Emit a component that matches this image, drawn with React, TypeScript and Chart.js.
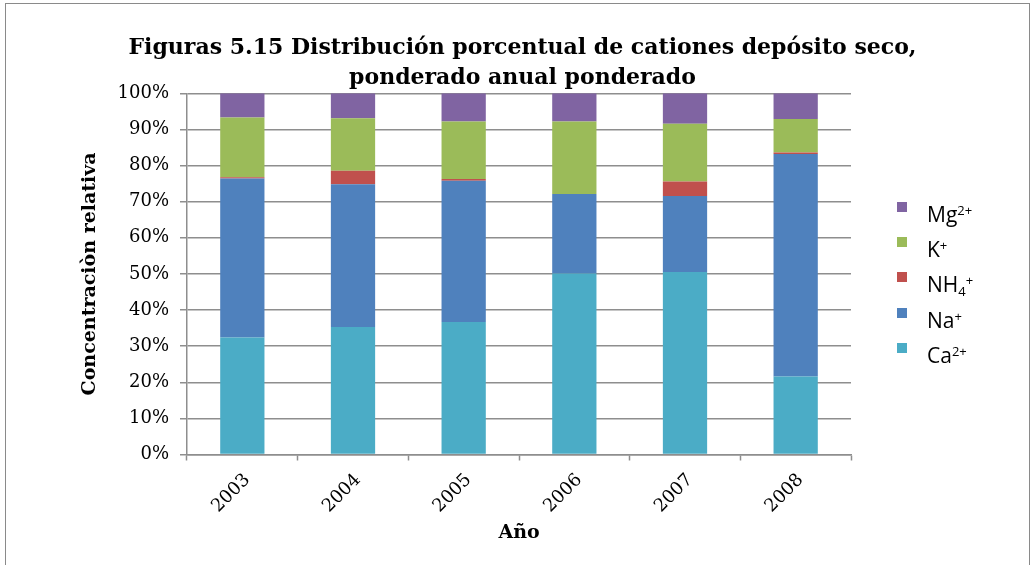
import React, { useEffect, useRef } from 'react';
import { Chart, registerables } from 'chart.js';

Chart.register(...registerables);

const years = ['2003', '2004', '2005', '2006', '2007', '2008'];
const caValues = [32.4, 35.3, 36.7, 50.1, 50.5, 21.6];
const naValues = [44.0, 39.5, 39.1, 22.0, 21.1, 61.6];
const nh4Values = [0.4, 3.8, 0.5, 0.0, 4.0, 0.4];
const kValues = [16.5, 14.5, 15.9, 20.1, 16.0, 9.3];
const mgValues = [6.7, 6.9, 7.8, 7.8, 8.4, 7.1];

const seriesNames = ['Ca²⁺', 'Na⁺', 'NH₄⁺', 'K⁺', 'Mg²⁺'];
const seriesColors = ['#4BACC6', '#4F81BD', '#C0504D', '#9BBB59', '#8064A2'];
// legend pieces (base, subscript, superscript), top to bottom
const legendBase = ['Mg', 'K', 'NH', 'Na', 'Ca'];
const legendSub = ['', '', '4', '', ''];
const legendSup = ['2+', '+', '+', '+', '2+'];
const legendColors = ['#8064A2', '#9BBB59', '#C0504D', '#4F81BD', '#4BACC6'];

const titleLines = [
  'Figuras 5.15 Distribución porcentual de cationes depósito seco,',
  'ponderado anual ponderado',
];
const yTitle = 'Concentraciòn relativa';
const xTitle = 'Año';

const SERIF = "'DejaVu Serif', serif";
const GRID = '#8e8e8e';

export default function App() {
  const ref = useRef<HTMLCanvasElement | null>(null);

  useEffect(() => {
    if (!ref.current) return;
    const values = [caValues, naValues, nh4Values, kValues, mgValues];
    const chart = new Chart(ref.current, {
      type: 'bar',
      data: {
        labels: years,
        datasets: values.map((v, i) => ({
          label: seriesNames[i],
          data: v,
          backgroundColor: seriesColors[i],
          borderWidth: 0,
          barPercentage: 0.4,
          categoryPercentage: 1,
          yAxisID: 'y',
        })),
      },
      options: {
        animation: false,
        responsive: false,
        layout: { padding: { left: 12, right: 0, top: 0, bottom: 0 } },
        plugins: {
          legend: { display: false },
          tooltip: { enabled: false },
          title: {
            display: true,
            text: titleLines,
            fullSize: true,
            color: '#000',
            font: { family: SERIF, size: 22, weight: 'bold', lineHeight: 1.36 },
            padding: { top: 33, bottom: 0.5 },
          },
        },
        scales: {
          x: {
            stacked: true,
            grid: {
              display: true,
              drawOnChartArea: false,
              drawTicks: true,
              tickLength: 6,
              tickColor: GRID,
              tickWidth: 1.5,
              offset: true,
            },
            border: { display: true, color: GRID, width: 1.5 },
            ticks: {
              color: '#000',
              font: { family: SERIF, size: 18 },
              minRotation: 45,
              maxRotation: 45,
              padding: 9,
              labelOffset: 5,
            },
            title: {
              display: true,
              text: xTitle,
              color: '#000',
              font: { family: SERIF, size: 19, weight: 'bold', lineHeight: 1.2 },
              padding: { top: 0, bottom: 21 },
            },
            afterFit: (s: any) => {
              s.height = 110.5;
            },
          },
          y: {
            stacked: true,
            min: 0,
            max: 100,
            grid: {
              color: GRID,
              lineWidth: 1.5,
              drawTicks: true,
              tickLength: 7,
              tickColor: GRID,
            },
            border: { display: true, color: GRID, width: 1.5 },
            ticks: {
              stepSize: 10,
              color: '#000',
              font: { family: SERIF, size: 18 },
              padding: 11,
              callback: (v: any) => v + '%',
            },
            title: {
              display: true,
              text: yTitle,
              color: '#000',
              font: { family: SERIF, size: 19, weight: 'bold', lineHeight: 1.2 },
              padding: { top: 67, bottom: 0 },
            },
            afterFit: (s: any) => {
              s.width = 175;
            },
          },
          legendSpace: {
            type: 'linear',
            position: 'right',
            display: true,
            grid: { display: false, drawTicks: false },
            border: { display: false },
            ticks: { display: false },
            afterFit: (s: any) => {
              s.width = 182;
            },
          },
        },
      },
    });
    return () => chart.destroy();
  }, []);

  return (
    <div style={{ position: 'fixed', left: 0, top: 0, width: 1033, height: 565, background: '#fff', overflow: 'hidden' }}>
      <div
        style={{
          position: 'absolute',
          left: 5,
          top: 3,
          width: 1023,
          height: 620,
          borderTop: '1.5px solid #8a8a8a',
          borderLeft: '1.5px solid #8a8a8a',
          borderRight: '1.5px solid #8a8a8a',
        }}
      />
      <canvas ref={ref} width={1033} height={565} style={{ position: 'absolute', left: 0, top: 0 }} />
      <div style={{ position: 'absolute', left: 897, top: 199, fontFamily: "'Open Sans', sans-serif", fontSize: 21, color: '#000' }}>
        {legendBase.map((b, i) => (
          <div key={b} style={{ position: 'absolute', left: 0, top: i * 35.2, height: 24, width: 130, whiteSpace: 'nowrap' }}>
            <span style={{ position: 'absolute', left: 0, top: 3, width: 10, height: 10, background: legendColors[i] }} />
            <span style={{ position: 'absolute', left: 30, top: -1, lineHeight: '24px' }}>
              {b}
              {legendSub[i] ? <sub style={{ fontSize: '0.62em', verticalAlign: '-0.3em' }}>{legendSub[i]}</sub> : null}
              <sup style={{ fontSize: '0.62em', verticalAlign: '0.55em' }}>{legendSup[i]}</sup>
            </span>
          </div>
        ))}
      </div>
    </div>
  );
}
